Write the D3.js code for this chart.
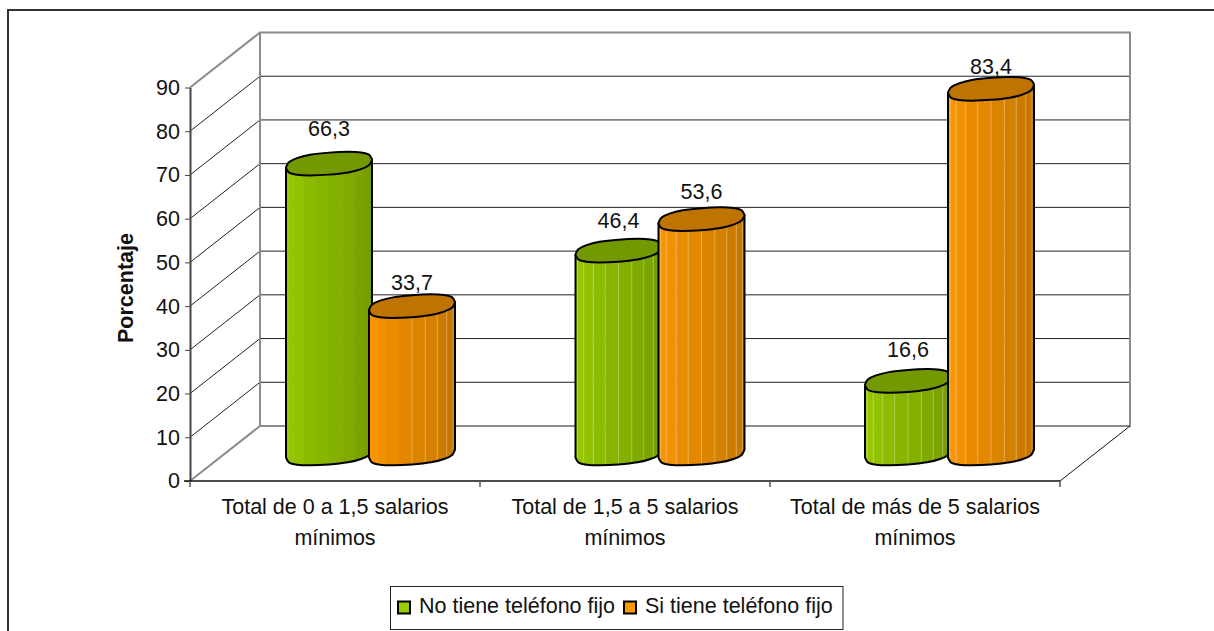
<!DOCTYPE html>
<html>
<head>
<meta charset="utf-8">
<script src="https://cdnjs.cloudflare.com/ajax/libs/d3/7.8.5/d3.min.js"></script>
<style>
  html, body { margin: 0; padding: 0; background: #fff; overflow: hidden; }
  text { font-family: "Liberation Sans", Arial, sans-serif; fill: #111; }
</style>
</head>
<body>
<svg id="chart" width="1214" height="631"></svg>
<script>
// Data
const categories = ["cat0", "cat1", "cat2"];
const categoryLines = [
  ["Total de 0 a 1,5 salarios", "mínimos"],
  ["Total de 1,5 a 5 salarios", "mínimos"],
  ["Total de más de 5 salarios", "mínimos"]
];
const seriesNames = ["No tiene teléfono fijo", "Si tiene teléfono fijo"];
const noTiene = [66.3, 46.4, 16.6];
const siTiene = [33.7, 53.6, 83.4];
const yTicks = [0, 10, 20, 30, 40, 50, 60, 70, 80, 90];

// Layout
const FRONT = { left: 190, right: 1060, top: 87.5, bottom: 481 };
const DEPTH = { x: 70, y: -55 };
const BAR_W = 86, BAR_STEP = 83, BAR_PAD = 61;
const CAP_B = 11, CAP_TILT = 4;
const FONT = 21.5;

const colors = [
  { light: "#99cc00", dark: "#739900" },
  { light: "#ff9900", dark: "#bf7300" }
];
// how far above the cap each value label sits, same order as the series
const labelLift = [[35, 23], [30, 27], [31, 22]];
// first facet seam that shows a light line on each bar
const seamFrom = [[99, 5], [1, 1], [1, 1]];

const svg = d3.select("#chart");

const x = d3.scaleBand().domain(categories).range([FRONT.left, FRONT.right]);
const y = d3.scaleLinear().domain([0, 90]).range([FRONT.bottom, FRONT.top]);

// Outer frame (only left and top are in view)
svg.append("path").attr("d", "M8,631V10H1214")
  .attr("fill", "none").attr("stroke", "#333").attr("stroke-width", 2);

// Walls
const wall = svg.append("g");
wall.selectAll("line.back").data(yTicks.slice(1, -1)).join("line").attr("class", "back")
  .attr("x1", FRONT.left + DEPTH.x).attr("x2", FRONT.right + DEPTH.x)
  .attr("y1", d => y(d) + DEPTH.y).attr("y2", d => y(d) + DEPTH.y)
  .attr("stroke", "#222").attr("stroke-width", 1);
wall.selectAll("line.side").data(yTicks.slice(1, -1)).join("line").attr("class", "side")
  .attr("x1", FRONT.left).attr("x2", FRONT.left + DEPTH.x)
  .attr("y1", d => y(d)).attr("y2", d => y(d) + DEPTH.y)
  .attr("stroke", "#222").attr("stroke-width", 1);

const bx = FRONT.left + DEPTH.x, rx = FRONT.right + DEPTH.x;
wall.append("path")
  .attr("d", `M${FRONT.left},${y(90)}L${bx},${y(90) + DEPTH.y}H${rx}V${y(0) + DEPTH.y}H${bx}V${y(90) + DEPTH.y}M${FRONT.left},${y(0)}L${bx},${y(0) + DEPTH.y}`)
  .attr("fill", "none").attr("stroke", "#8c8c8c").attr("stroke-width", 2);
wall.append("line")
  .attr("x1", FRONT.right).attr("y1", y(0))
  .attr("x2", rx).attr("y2", y(0) + DEPTH.y)
  .attr("stroke", "#111").attr("stroke-width", 1);

// Axes
const yAxisG = svg.append("g").attr("transform", `translate(${FRONT.left},0)`)
  .call(d3.axisLeft(y).tickValues(yTicks).tickSize(5).tickSizeOuter(0).tickPadding(5));
yAxisG.select(".domain").attr("stroke", "#444").attr("stroke-width", 2);
yAxisG.selectAll(".tick line").attr("stroke", "#444");
yAxisG.selectAll("text").attr("font-size", FONT).attr("font-family", "Liberation Sans").attr("fill", "#111");

const xAxisG = svg.append("g").attr("transform", `translate(0,${FRONT.bottom})`);
xAxisG.append("line").attr("x1", FRONT.left - 6).attr("x2", FRONT.right)
  .attr("stroke", "#111").attr("stroke-width", 1.5);
xAxisG.selectAll("line.tick")
  .data(categories.map(c => x(c)).concat(FRONT.right)).join("line").attr("class", "tick")
  .attr("x1", d => d).attr("x2", d => d).attr("y1", 0).attr("y2", 6)
  .attr("stroke", "#555").attr("stroke-width", 1.5);

categories.forEach((c, i) => {
  svg.append("g").selectAll("text").data(categoryLines[i]).join("text")
    .attr("x", x(c) + x.bandwidth() / 2)
    .attr("y", (d, j) => 514 + j * 31)
    .attr("text-anchor", "middle").attr("font-size", FONT)
    .text(d => d);
});

svg.append("text")
  .attr("transform", "translate(133,288) rotate(-90)")
  .attr("text-anchor", "middle").attr("font-size", FONT).attr("font-weight", "bold")
  .text("Porcentaje");

// Bars
const defs = svg.append("defs");
// squarish ellipse, the original caps are flattened like a rounded octagon
const spow = (v, p) => Math.sign(v) * Math.pow(Math.abs(v), p);
const capAngles = d3.range(16).map(i => i * Math.PI / 8);
const capPoint = (cx, cy, a, t) => [
  cx + a * spow(Math.cos(t), 0.85),
  cy + CAP_B * spow(Math.sin(t), 0.8) - CAP_TILT * Math.cos(t)
];
const capPath = d3.line().curve(d3.curveCardinalClosed.tension(0.5));
const bottomEdge = d3.line().curve(d3.curveCardinal.tension(0.5));
const FACETS = 10;
const seam = k => (1 - Math.cos(k / FACETS * Math.PI)) / 2;

function drawBar(g, cat, si, value, idx) {
  const a = BAR_W / 2;
  const left = x(cat) + BAR_PAD + DEPTH.x / 2 + si * BAR_STEP - idx * 0.5;
  const cx = left + a;
  const yTop = y(value) + DEPTH.y / 2;
  const yBot = y(0) + DEPTH.y / 2;
  const pal = colors[si];

  // lower half of the base, left to right
  const lower = d3.range(0, 9).map(k => capPoint(cx, yBot, a, Math.PI - k * Math.PI / 8));
  const body = `M${cx - a},${yTop + CAP_TILT}` +
    bottomEdge(lower).replace(/^M/, "L") +
    `L${cx + a},${yTop - CAP_TILT}Z`;

  const clipId = `clip-${idx}-${si}`;
  defs.append("clipPath").attr("id", clipId).append("path").attr("d", body);

  const facets = g.append("g").attr("clip-path", `url(#${clipId})`);
  const shade = d3.interpolateRgb(pal.light, pal.dark);
  d3.range(FACETS).forEach(k => {
    facets.append("rect")
      .attr("x", left + seam(k) * BAR_W).attr("width", (seam(k + 1) - seam(k)) * BAR_W + 0.5)
      .attr("y", yTop - 15).attr("height", yBot - yTop + 30)
      .attr("fill", shade(k / (FACETS - 1)));
    if (k >= seamFrom[idx][si]) {
      facets.append("line")
        .attr("x1", left + seam(k) * BAR_W).attr("x2", left + seam(k) * BAR_W)
        .attr("y1", yTop - 15).attr("y2", yBot + 15)
        .attr("stroke", "#fff").attr("stroke-opacity", 0.3).attr("stroke-width", 1);
    }
  });

  g.append("path").attr("d", body)
    .attr("fill", "none").attr("stroke", "#000").attr("stroke-width", 2)
    .attr("stroke-linejoin", "round");
  g.append("path")
    .attr("d", capPath(capAngles.map(t => capPoint(cx, yTop, a, t))))
    .attr("fill", pal.dark).attr("stroke", "#000").attr("stroke-width", 2);

  g.append("text")
    .attr("x", cx).attr("y", yTop - labelLift[idx][si] + 7)
    .attr("text-anchor", "middle").attr("font-size", FONT)
    .text(String(value).replace(".", ","));
}

const barsG = svg.append("g");
categories.forEach((c, i) => {
  const g = barsG.append("g");
  drawBar(g, c, 0, noTiene[i], i);
  drawBar(g, c, 1, siTiene[i], i);
});

// Legend
const legend = svg.append("g");
legend.append("rect")
  .attr("x", 390.5).attr("y", 586.5).attr("width", 452.5).attr("height", 43)
  .attr("fill", "#fff").attr("stroke", "#222").attr("stroke-width", 1);
const swatchX = [398, 624];
seriesNames.forEach((name, i) => {
  legend.append("rect")
    .attr("x", swatchX[i]).attr("y", 601.5).attr("width", 12).attr("height", 12)
    .attr("fill", colors[i].light).attr("stroke", "#000").attr("stroke-width", 2);
  legend.append("text")
    .attr("x", swatchX[i] + 21).attr("y", 613)
    .attr("font-size", FONT).text(name);
});
</script>
</body>
</html>
